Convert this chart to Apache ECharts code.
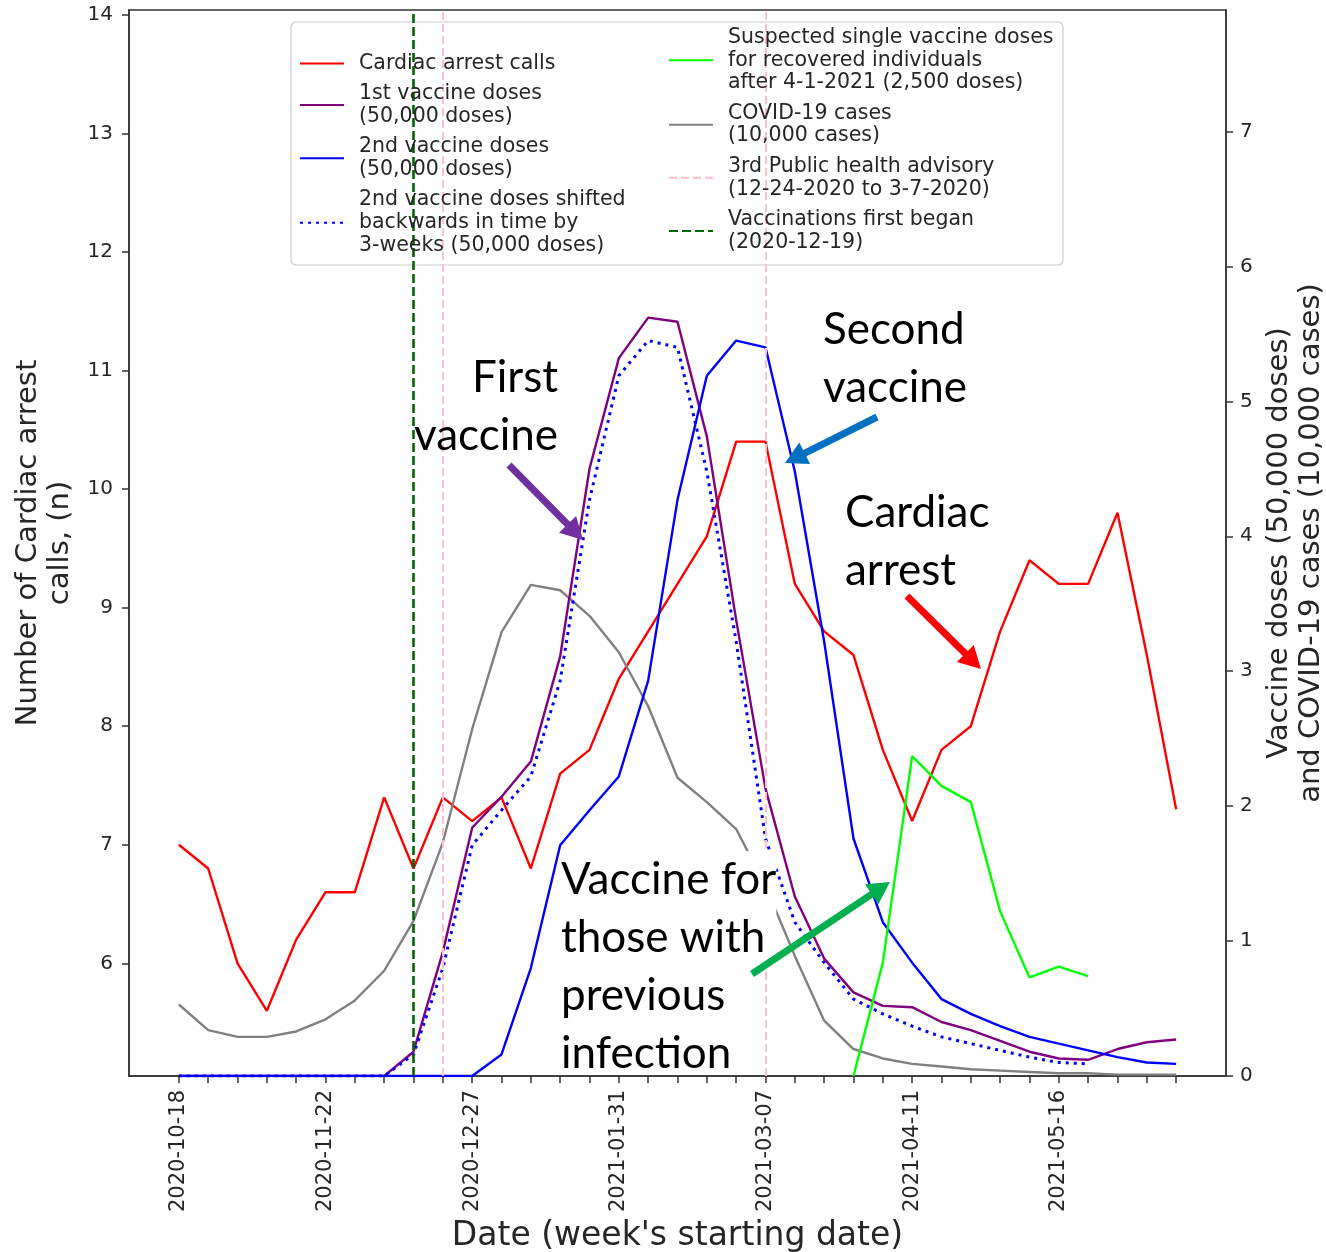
<!DOCTYPE html>
<html><head><meta charset="utf-8">
<script src="https://cdn.jsdelivr.net/npm/echarts@6/dist/echarts.min.js"></script>
<style>html,body{margin:0;padding:0;background:#fff}#c{width:1326px;height:1252px}</style>
</head><body><div id="c"></div>
<script>
// ---------- data ----------
const weeks = ['2020-10-18','2020-10-25','2020-11-01','2020-11-08','2020-11-15','2020-11-22','2020-11-29','2020-12-06','2020-12-13','2020-12-20','2020-12-27','2021-01-03','2021-01-10','2021-01-17','2021-01-24','2021-01-31','2021-02-07','2021-02-14','2021-02-21','2021-02-28','2021-03-07','2021-03-14','2021-03-21','2021-03-28','2021-04-04','2021-04-11','2021-04-18','2021-04-25','2021-05-02','2021-05-09','2021-05-16','2021-05-23','2021-05-30','2021-06-06','2021-06-13'];
const labelledWeeks = ['2020-10-18','2020-11-22','2020-12-27','2021-01-31','2021-03-07','2021-04-11','2021-05-16'];
const leftTicks = [6,7,8,9,10,11,12,13,14];
const rightTicks = [0,1,2,3,4,5,6,7];

const cardiacCalls = [7.0,6.8,6.0,5.6,6.2,6.6,6.6,7.4,6.8,7.4,7.2,7.4,6.8,7.6,7.8,8.4,8.8,9.2,9.6,10.4,10.4,9.2,8.8,8.6,7.8,7.2,7.8,8.0,8.8,9.4,9.2,9.2,9.8,8.6,7.3];
const firstDoses = [0,0,0,0,0,0,0,0,0.18,0.92,1.84,2.07,2.33,3.11,4.50,5.32,5.62,5.59,4.74,3.38,2.13,1.33,0.87,0.62,0.52,0.51,0.40,0.34,0.26,0.18,0.13,0.12,0.20,0.25,0.27];
const secondDoses = [0,0,0,0,0,0,0,0,0,0,0,0.16,0.80,1.71,1.97,2.22,2.93,4.27,5.19,5.45,5.40,4.48,3.22,1.76,1.14,0.84,0.57,0.46,0.37,0.29,0.24,0.19,0.14,0.10,0.09];
const secondDosesShifted = [0,0,0,0,0,0,0,0,0.16,0.80,1.71,1.97,2.22,2.93,4.27,5.19,5.45,5.40,4.48,3.22,1.76,1.14,0.84,0.57,0.46,0.37,0.29,0.24,0.19,0.14,0.10,0.09,null,null,null];
const recoveredSingleDoses = [null,null,null,null,null,null,null,null,null,null,null,null,null,null,null,null,null,null,null,null,null,null,null,0,0.84,2.37,2.15,2.03,1.22,0.73,0.81,0.74,null,null,null];
const covidCases = [0.53,0.34,0.29,0.29,0.33,0.42,0.56,0.78,1.15,1.73,2.57,3.29,3.64,3.60,3.41,3.14,2.74,2.21,2.03,1.83,1.41,0.89,0.41,0.20,0.13,0.09,0.07,0.05,0.04,0.03,0.02,0.02,0.01,0.01,0.01];
const advisoryWeeks = ['2020-12-20','2021-03-07'];
const vaccinationStartWeek = ['2020-12-13'];

// ---------- chart ----------
const FONT = 'DejaVu Sans';
const TXT = '#262626';
const AX = '#333333';
const pair = arr => arr.map((v, i) => [i, v]);
const idx = d => weeks.indexOf(d);

const leftNames = ['Cardiac arrest calls','1st vaccine doses\n(50,000 doses)','2nd vaccine doses\n(50,000 doses)','2nd vaccine doses shifted\nbackwards in time by\n3-weeks (50,000 doses)'];
const rightNames = ['Suspected single vaccine doses\nfor recovered individuals\nafter 4-1-2021 (2,500 doses)','COVID-19 cases\n(10,000 cases)','3rd Public health advisory\n(12-24-2020 to 3-7-2020)','Vaccinations first began\n(2020-12-19)'];

function arrow(x1, y1, x2, y2, color) {
  const dx = x2 - x1, dy = y2 - y1, L = Math.hypot(dx, dy);
  const ux = dx / L, uy = dy / L, px = -uy, py = ux;
  const hl = 22, hw = 12;
  const bx = x2 - ux * hl, by = y2 - uy * hl;
  return [
    {type: 'line', shape: {x1: x1, y1: y1, x2: bx + ux * 2, y2: by + uy * 2}, style: {stroke: color, lineWidth: 7}, z: 20},
    {type: 'polygon', shape: {points: [[x2, y2], [bx + px * hw, by + py * hw], [bx - px * hw, by - py * hw]]}, style: {fill: color}, z: 20}
  ];
}
function note(x, y, text, align, bg) {
  const st = {text: text, font: '44px Lato', fill: '#000', lineHeight: 58,
    align: align, textAlign: align, verticalAlign: 'top', textVerticalAlign: 'top'};
  if (bg) { st.backgroundColor = '#fff'; }
  return {type: 'text', x: x, y: y, style: st, z: 15};
}

const lineSeries = (name, data, axis, color, extra) => Object.assign({
  name: name, type: 'line', yAxisIndex: axis, data: pair(data), symbol: 'none',
  lineStyle: {color: color, width: 2.4}, itemStyle: {color: color}, silent: true
}, extra || {});

const legendCommon = {
  orient: 'vertical', padding: 0, itemWidth: 44, itemHeight: 14, itemGap: 7.5,
  selectedMode: false, z: 6, itemStyle: {opacity: 0},
  textStyle: {fontFamily: FONT, fontSize: 20.5, lineHeight: 22.8, color: TXT, padding: [0, 0, 0, 10]}
};

const chart = echarts.init(document.getElementById('c'));
chart.setOption({
  animation: false,
  backgroundColor: '#fff',
  grid: {left: 129, top: 10, width: 1097, height: 1066, outerBoundsMode: 'none', containLabel: false,
    show: true, borderColor: AX, borderWidth: 1.5, backgroundColor: 'transparent'},
  xAxis: {
    type: 'value', min: -1.7, max: 35.7,
    axisLine: {show: true, onZero: false, lineStyle: {color: AX, width: 1.5}},
    axisTick: {show: true, length: 7, customValues: weeks.map((d, i) => i), lineStyle: {color: AX, width: 1.5}},
    axisLabel: {customValues: labelledWeeks.map(idx), formatter: v => weeks[Math.round(v)], rotate: 90, margin: 14,
      fontFamily: FONT, fontSize: 21, color: TXT},
    splitLine: {show: false},
    name: "Date (week's starting date)", nameLocation: 'middle', nameGap: 141,
    nameTextStyle: {fontFamily: FONT, fontSize: 33, color: TXT}
  },
  yAxis: [
    {type: 'value', position: 'left', min: 5.05, max: 14.04,
      axisLine: {show: true, onZero: false, lineStyle: {color: AX, width: 1.5}},
      axisTick: {show: true, length: 7, customValues: leftTicks, lineStyle: {color: AX, width: 1.5}},
      axisLabel: {customValues: leftTicks, margin: 16, fontFamily: FONT, fontSize: 20, color: TXT},
      splitLine: {show: false},
      name: 'Number of Cardiac arrest\ncalls, (n)', nameLocation: 'middle', nameRotate: 90, nameGap: 46,
      nameTextStyle: {fontFamily: FONT, fontSize: 29, lineHeight: 32, color: TXT}},
    {type: 'value', position: 'right', min: 0, max: 7.9,
      axisLine: {show: true, onZero: false, lineStyle: {color: AX, width: 1.5}},
      axisTick: {show: true, length: 7, customValues: rightTicks, lineStyle: {color: AX, width: 1.5}},
      axisLabel: {customValues: rightTicks, margin: 14, fontFamily: FONT, fontSize: 20, color: TXT},
      splitLine: {show: false},
      name: 'Vaccine doses (50,000 doses)\nand COVID-19 cases (10,000 cases)', nameLocation: 'middle', nameRotate: 90, nameGap: 36,
      nameTextStyle: {fontFamily: FONT, fontSize: 29, lineHeight: 32, color: TXT}}
  ],
  legend: [
    Object.assign({data: leftNames, left: 299, top: 52}, legendCommon),
    Object.assign({data: rightNames, left: 668, top: 26}, legendCommon)
  ],
  graphic: [
    {type: 'rect', shape: {x: 291, y: 22, width: 772, height: 243, r: 5}, style: {fill: 'rgba(255,255,255,0.8)', stroke: '#cccccc', lineWidth: 1.2}, z: 5},
    note(558, 349, 'First\nvaccine', 'right', false),
    note(823, 301, 'Second\nvaccine', 'left', false),
    note(845, 484, 'Cardiac\narrest', 'left', false),
    note(561, 851, 'Vaccine for\nthose with', 'left', true),
    note(561, 967, 'previous\ninfection', 'left', false),
    ...arrow(509, 465, 583, 540, '#7030A0'),
    ...arrow(877, 417, 785, 463, '#0070C0'),
    ...arrow(907, 596, 981, 669, '#FF0000'),
    ...arrow(752, 974, 890, 882, '#00B050')
  ],
  series: [
    lineSeries(rightNames[2], [], 1, '#ffc0cb', {
      lineStyle: {color: '#ffc0cb', width: 2, type: [8, 4]},
      markLine: {symbol: 'none', silent: true, label: {show: false}, animation: false,
        lineStyle: {color: '#ffc0cb', width: 2, type: [8, 4]},
        data: advisoryWeeks.map(d => ({xAxis: idx(d)}))}}),
    lineSeries(rightNames[3], [], 1, '#006400', {
      lineStyle: {color: '#006400', width: 2.6, type: [9, 4]},
      markLine: {symbol: 'none', silent: true, label: {show: false}, animation: false,
        lineStyle: {color: '#006400', width: 2.6, type: [9, 4]},
        data: vaccinationStartWeek.map(d => ({xAxis: idx(d)}))}}),
    lineSeries(leftNames[0], cardiacCalls, 0, '#ff0000'),
    lineSeries(rightNames[1], covidCases, 1, '#808080'),
    lineSeries(leftNames[1], firstDoses, 1, '#800080'),
    lineSeries(leftNames[2], secondDoses, 1, '#0000ff'),
    lineSeries(leftNames[3], secondDosesShifted, 1, '#0000ff', {lineStyle: {color: '#0000ff', width: 3, type: [3, 5]}}),
    lineSeries(rightNames[0], recoveredSingleDoses, 1, '#00ff00')
  ]
});
</script>
</body></html>
